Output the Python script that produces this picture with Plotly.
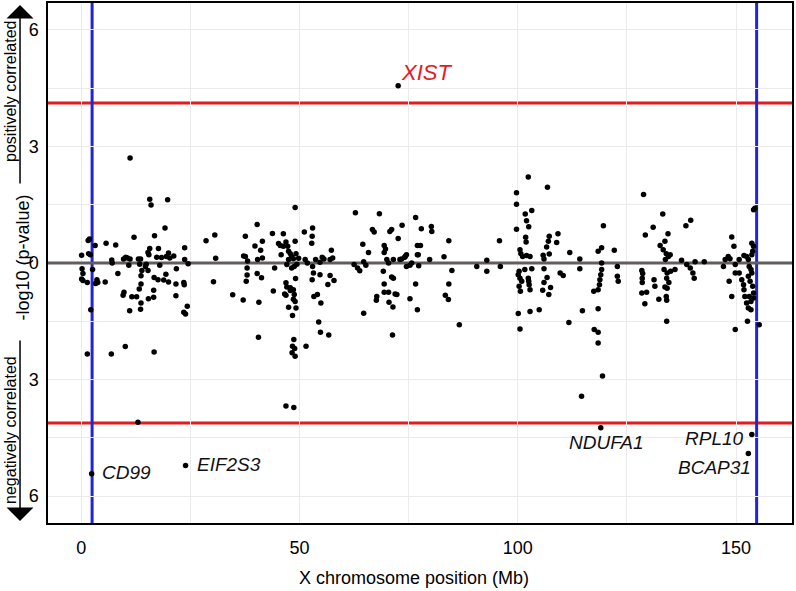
import plotly.graph_objects as go

# ---- data: (position in Mb, signed -log10 p; + = positively, - = negatively correlated)
genes_0_40mb = [
    (1.6, 0.58), (1.9, 0.62), (0.1, 0.20), (1.7, 0.24), (2.1, 0.21), (3.2, 0.45), (0.2, -0.15),
    (0.4, -0.27), (0.1, -0.41), (0.4, -0.45), (1.4, -0.50), (2.6, -0.17), (3.6, -0.43), (3.8, -0.50),
    (3.3, -0.53), (5.5, -0.49), (2.2, -1.20), (1.4, -2.34), (5.7, 0.51), (7.9, 0.46), (7.0, 0.08),
    (7.1, 0.0), (8.4, -0.27), (9.7, 0.10), (10.2, 0.15), (10.6, 0.13), (11.2, 0.10), (10.9, -0.06),
    (12.1, 0.66), (11.2, 2.70), (9.8, -0.75), (9.6, -0.83), (11.6, -0.87), (12.7, -0.87), (13.3, -0.67),
    (13.7, -0.54), (13.7, -0.33), (13.9, -0.19), (13.7, -1.03), (13.6, -1.19), (11.1, -1.23), (13.1, 0.10),
    (13.6, 0.10), (13.4, -0.03), (14.9, -0.03), (15.3, -0.19), (14.7, -0.09), (15.7, 1.64), (16.0, 1.49),
    (19.8, 1.63), (15.5, 0.21), (15.7, 0.37), (15.3, 0.27), (16.8, 0.70), (17.7, 0.37), (17.3, 0.15),
    (18.4, 0.14), (19.2, 0.90), (18.0, -0.06), (20.0, 0.26), (19.5, 0.17), (20.3, 0.13), (21.2, 0.18),
    (16.7, -0.37), (17.6, -0.43), (18.9, -0.44), (19.4, -0.29), (20.0, -0.49), (21.8, -0.15), (21.7, -0.54),
    (15.4, -0.92), (16.6, -0.70), (16.6, -0.88), (21.7, -0.84), (23.7, 0.39), (23.7, 0.09), (23.5, -0.50),
    (23.6, -0.56), (24.3, -1.11), (23.5, -1.27), (23.9, -1.31), (24.5, -0.02), (6.9, -2.34), (10.1, -2.15),
    (16.7, -2.29), (28.6, 0.57), (30.6, 0.72), (30.8, 0.12), (30.3, -0.48), (34.7, -0.82), (37.1, -0.95),
    (37.6, 0.69), (37.2, 0.18), (37.6, 0.17), (38.1, 0.05), (38.0, -0.13), (38.0, -0.31), (37.8, -0.47),
    (39.8, 0.44), (40.3, 0.99), (40.4, 0.09), (40.3, -0.27), (40.7, -1.01), (40.6, -1.91), (13.0, -4.10),
]

genes_40_60mb = [
    (41.5, 0.56), (41.1, 0.33), (41.5, 0.13), (41.3, -0.38), (43.8, 0.76), (44.0, -0.72), (44.3, -0.13),
    (45.2, 0.50), (45.6, 0.45), (46.3, 0.75), (45.8, 0.21), (46.3, 0.43), (46.9, 0.54), (47.3, 0.43),
    (47.5, 0.30), (47.9, 0.24), (48.2, 0.17), (48.6, 0.11), (49.0, 0.56), (49.2, 0.24), (49.4, -0.03),
    (47.5, 0.09), (47.1, -0.04), (48.2, -0.13), (48.8, -0.09), (49.8, 0.12), (49.0, 1.43), (46.9, -0.51),
    (47.1, -0.62), (46.6, -0.80), (46.9, -0.83), (47.9, -0.71), (48.6, -0.69), (48.8, -0.81), (48.6, -0.93),
    (49.0, -0.99), (49.2, -1.16), (47.5, -1.14), (48.4, -1.35), (49.1, -0.40), (47.9, -0.64), (48.7, -1.97),
    (48.4, -2.14), (48.9, -2.20), (48.3, -2.31), (49.0, -2.40), (51.5, -2.14), (46.9, -3.68), (48.7, -3.72),
    (51.1, 0.80), (53.0, 0.90), (52.9, 0.69), (52.8, 0.51), (51.3, 0.09), (51.8, 0.0), (53.0, -0.09),
    (53.7, 0.09), (54.7, 0.02), (55.2, 0.15), (55.6, 0.10), (57.3, 0.33), (57.0, 0.09), (57.6, 0.13),
    (53.2, -0.26), (54.7, -0.30), (52.9, -0.43), (57.0, -0.32), (57.9, -0.45), (56.5, -0.55), (53.3, -0.86),
    (54.1, -0.81), (54.9, -1.03), (54.4, -1.52), (54.8, -1.78), (56.7, -1.85),
]

genes_60_90mb = [
    (62.8, 1.29), (68.3, 1.27), (76.6, 1.17), (64.5, 0.48), (65.8, 0.27), (64.7, 0.03), (65.2, -0.06),
    (63.3, -0.13), (63.8, -0.20), (62.5, -0.04), (66.7, 0.86), (67.1, 0.80), (69.4, 0.45), (69.7, 0.36),
    (69.4, 0.27), (71.1, 0.86), (70.7, 0.81), (72.6, 0.63), (73.5, 0.97), (70.0, 0.09), (70.4, 0.0),
    (71.5, 0.09), (73.0, 0.09), (74.2, 0.17), (73.4, 0.10), (74.5, -0.09), (75.7, 0.0), (77.0, 0.45),
    (77.0, 0.21), (67.7, -0.86), (67.6, -0.96), (69.2, -0.21), (69.4, -0.54), (69.4, -0.75), (70.4, -0.75),
    (71.5, -0.39), (71.1, -0.36), (71.9, -0.80), (72.3, -0.81), (70.5, -1.01), (71.4, -1.13), (64.7, -1.29),
    (71.3, -1.85), (76.6, -0.54), (75.3, -0.92), (77.0, -1.20), (77.9, 0.88), (80.2, 0.94), (80.3, 0.81),
    (77.7, 0.45), (74.1, 0.15), (74.5, 0.21), (77.2, 0.21), (77.3, -0.07), (75.3, -0.06), (79.8, 0.09),
    (83.1, 0.16), (84.9, -0.19), (84.2, 0.57), (84.2, -0.54), (83.4, -0.83), (84.1, -0.94), (86.6, -1.59),
]

genes_90_125mb = [
    (90.6, -0.09), (92.9, 0.07), (92.9, -0.21), (95.8, 0.57), (96.0, -0.09), (99.7, 1.81), (99.7, 1.51),
    (99.7, 0.87), (102.4, 2.21), (103.2, 1.35), (101.7, 1.26), (102.0, 1.09), (102.5, 0.93), (101.8, 0.66),
    (101.9, 0.54), (100.5, 0.34), (100.7, 0.24), (101.1, 0.17), (102.0, 0.19), (102.8, 0.17), (100.3, -0.21),
    (100.1, -0.30), (100.5, -0.39), (100.9, -0.47), (100.3, -0.60), (100.6, -0.73), (101.6, -0.17),
    (102.4, -0.39), (102.6, -0.56), (102.8, -0.69), (102.5, -0.47), (103.2, -0.15), (100.1, -1.30),
    (100.5, -1.70), (102.8, -1.25), (104.9, -1.20), (106.8, 1.95), (107.2, 0.69), (107.0, 0.56), (106.6, 0.41),
    (109.2, 0.75), (108.9, 0.53), (105.8, 0.20), (106.0, 0.10), (107.2, 0.23), (106.0, -0.15), (106.7, -0.37),
    (106.0, -0.50), (107.5, -0.63), (107.1, -0.81), (105.7, -0.70), (109.7, -0.26), (110.4, -0.32),
    (111.9, 0.27), (114.2, 0.10), (114.2, -0.15), (111.7, -1.53), (114.8, -1.23), (117.4, -0.73),
    (117.5, -1.71), (118.4, -1.78), (118.4, -2.06), (118.4, 0.30), (118.4, -1.18), (114.6, -3.43),
    (119.6, 0.96), (119.2, 0.39), (119.2, -0.17), (119.0, -0.30), (118.8, -0.43), (118.7, -0.56),
    (118.4, -0.69), (119.2, 0.0), (119.4, -2.91), (122.1, 0.33), (122.8, -0.09), (122.8, -0.34), (123.0, -0.47),
]

genes_125_160mb = [
    (128.8, 1.76), (129.2, 0.72), (131.0, 0.92), (128.4, -0.19), (128.6, -0.27), (128.5, -0.39), (128.5, -0.50),
    (128.4, -0.77), (129.5, -0.75), (129.1, -1.05), (131.2, -0.43), (131.4, -0.60), (132.3, -0.93), (133.2, 1.26),
    (134.4, 0.75), (132.6, 0.45), (133.7, 0.56), (133.3, 0.34), (134.0, 0.24), (134.5, 0.17), (134.9, 0.21),
    (133.8, 0.09), (133.5, -0.17), (134.2, -0.26), (135.0, -0.21), (134.1, -0.39), (134.6, -0.50), (133.7, -0.62),
    (134.2, -0.65), (134.0, -0.86), (134.1, -0.96), (134.1, -1.50), (136.0, -0.17), (138.5, 0.96), (139.6, 1.10),
    (137.5, 0.07), (138.7, -0.04), (139.5, -0.13), (140.1, -0.26), (140.4, -0.39), (140.6, 0.03), (142.7, 0.03),
    (149.0, 0.67), (149.5, 0.43), (148.2, 0.17), (147.1, -0.09), (147.5, 0.09), (148.6, 0.11), (149.8, -0.04),
    (150.7, 0.09), (151.8, 0.19), (148.4, -0.47), (149.0, -0.86), (149.8, -0.26), (149.8, -1.71), (150.7, -0.26),
    (151.3, -0.43), (151.7, -0.56), (151.8, -0.69), (152.0, -0.86), (152.4, -1.03), (152.8, -1.16), (153.4, -1.20),
    (152.6, -1.50), (155.3, -1.59), (153.0, -0.09), (153.4, -0.17), (153.6, -0.26), (152.8, -0.34), (153.2, -0.47),
    (153.8, -0.60), (154.0, -0.77), (153.0, -0.86), (154.0, 1.37), (154.3, 1.41), (153.6, 0.51), (154.0, 0.43),
    (153.6, 0.21), (153.8, 0.30), (152.8, 0.09), (152.4, 0.17), (154.0, -0.90), (153.4, -0.99),
]

# labelled genes
gene_names = ["XIST", "CD99", "EIF2S3", "NDUFA1", "RPL10", "BCAP31"]
gene_mb = [72.6, 2.4, 23.9, 119.0, 153.6, 152.8]
gene_logp = [4.56, -5.42, -5.21, -4.24, -4.41, -4.90]

significance_threshold = 4.12
par_boundaries_mb = [2.5, 154.7]

x_range = [-7.6, 162.8]
y_range = [-6.69, 6.69]
x_ticks = [0, 50, 100, 150]
y_ticks = [-6, -3, 0, 3, 6]
y_ticktext = ["6", "3", "0", "3", "6"]

# ---- figure
all_pts = genes_0_40mb + genes_40_60mb + genes_60_90mb + genes_90_125mb + genes_125_160mb
xs = [p[0] for p in all_pts] + gene_mb
ys = [p[1] for p in all_pts] + gene_logp

FONT = "Liberation Sans, Arial, Helvetica, sans-serif"
RED = "#e41a1c"
BLUE = "#2323d8"
GRID = "#ebebeb"

fig = go.Figure()
# zero reference line (drawn as a trace so it sits above the gridlines, below the points)
fig.add_trace(go.Scatter(x=x_range, y=[0, 0], mode="lines",
                         line=dict(color="#625c5e", width=3), hoverinfo="skip"))
fig.add_trace(go.Scatter(x=xs, y=ys, mode="markers",
                         marker=dict(size=5.5, color="black", line=dict(width=0)),
                         hoverinfo="skip"))

shapes = []
for s in (significance_threshold, -significance_threshold):
    shapes.append(dict(type="line", xref="paper", x0=0, x1=1, yref="y", y0=s, y1=s,
                       line=dict(color=RED, width=3), layer="between"))
for b in par_boundaries_mb:
    shapes.append(dict(type="line", xref="x", x0=b, x1=b, yref="paper", y0=0, y1=1,
                       line=dict(color=BLUE, width=3), layer="between"))

annotations = []
label_style = {
    "XIST": dict(xanchor="left", xshift=1, yshift=13, size=22, color=RED),
    "CD99": dict(xanchor="left", xshift=8, yshift=1, size=19, color="#111"),
    "EIF2S3": dict(xanchor="left", xshift=9, yshift=1, size=19, color="#111"),
    "NDUFA1": dict(xanchor="center", xshift=6, yshift=-15, size=19, color="#111"),
    "RPL10": dict(xanchor="right", xshift=-6, yshift=-4, size=19, color="#111"),
    "BCAP31": dict(xanchor="right", xshift=5, yshift=-14, size=19, color="#111"),
}
for name, gx, gy in zip(gene_names, gene_mb, gene_logp):
    st = label_style[name]
    annotations.append(dict(x=gx, y=gy, xref="x", yref="y", text=f"<i>{name}</i>",
                            showarrow=False, xanchor=st["xanchor"], yanchor="middle",
                            xshift=st["xshift"], yshift=st["yshift"],
                            font=dict(family=FONT, size=st["size"], color=st["color"])))

# side labels and arrows
annotations += [
    dict(text="-log10 (p-value)", xref="paper", yref="paper", x=-0.034, y=0.51,
         textangle=-90, showarrow=False, xanchor="center", yanchor="middle",
         font=dict(family=FONT, size=18, color="black")),
    dict(text="positively correlated", xref="paper", yref="paper", x=-0.0497, y=0.829,
         textangle=-90, showarrow=False, xanchor="center", yanchor="middle",
         font=dict(family=FONT, size=16, color="black")),
    dict(text="negatively correlated", xref="paper", yref="paper", x=-0.0497, y=0.179,
         textangle=-90, showarrow=False, xanchor="center", yanchor="middle",
         font=dict(family=FONT, size=16, color="black")),
    dict(text="", xref="paper", yref="paper", x=-0.0376, y=0.996, ax=0, ay=180,
         showarrow=True, arrowhead=1, arrowsize=3, arrowwidth=1.5, arrowcolor="black"),
    dict(text="", xref="paper", yref="paper", x=-0.0376, y=0.004, ax=0, ay=-182,
         showarrow=True, arrowhead=1, arrowsize=3, arrowwidth=1.5, arrowcolor="black"),
    dict(text="X chromosome position (Mb)", xref="paper", yref="paper", x=0.492, y=-0.106,
         showarrow=False, xanchor="center", yanchor="middle",
         font=dict(family=FONT, size=18, color="black")),
]

fig.update_layout(
    width=796, height=591,
    margin=dict(l=48, r=4, t=3, b=68, autoexpand=False),
    plot_bgcolor="white", paper_bgcolor="white",
    showlegend=False,
    font=dict(family=FONT, size=18, color="black"),
    shapes=shapes, annotations=annotations,
    xaxis=dict(range=x_range, tickmode="array", tickvals=x_ticks, automargin=False,
               showgrid=True, gridcolor=GRID, gridwidth=1,
               minor=dict(tickmode="array", tickvals=[25, 75, 125], showgrid=True,
                          gridcolor=GRID, gridwidth=1),
               zeroline=False, showline=True, linecolor="black", linewidth=1.5, mirror=True,
               ticks="", ticklabelstandoff=8, tickfont=dict(size=18, color="black")),
    yaxis=dict(range=y_range, tickmode="array", tickvals=y_ticks, ticktext=y_ticktext,
               automargin=False,
               showgrid=True, gridcolor=GRID, gridwidth=1,
               minor=dict(tickmode="array", tickvals=[-4.5, -1.5, 1.5, 4.5], showgrid=True,
                          gridcolor=GRID, gridwidth=1),
               zeroline=False, showline=True, linecolor="black", linewidth=1.5, mirror=True,
               ticks="", ticklabelstandoff=4, tickfont=dict(size=18, color="black")),
)

# remove the browser's default page margin so the figure sits at the window's top-left
fig.write_html("out.html", config={"displayModeBar": False},
               post_script="document.body.style.margin='0px';")
